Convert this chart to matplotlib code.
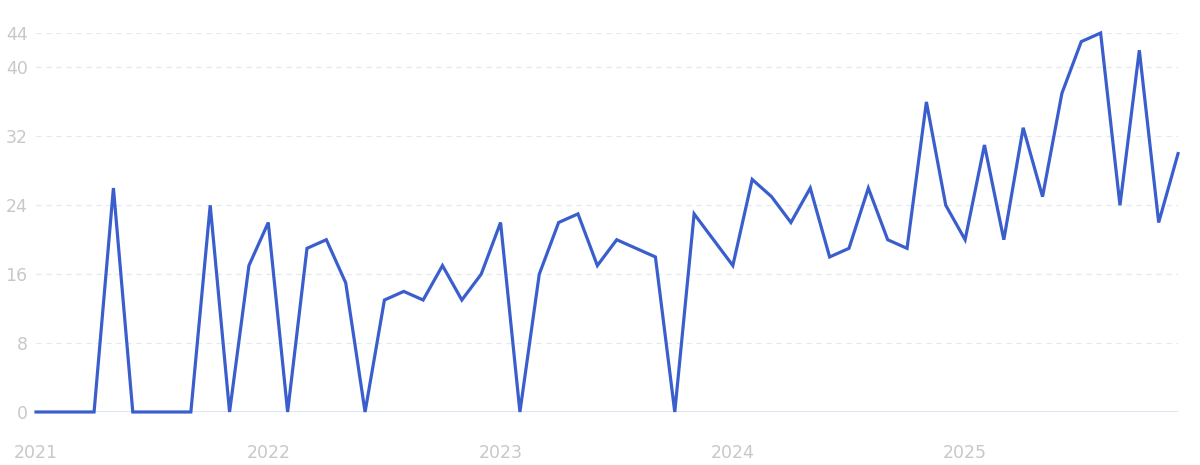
import matplotlib.pyplot as plt

# monthly values, Jan 2021 .. Dec 2025
values = [0, 0, 0, 0, 26, 0, 0, 0, 0, 24, 0, 17,
          22, 0, 19, 20, 15, 0, 13, 14, 13, 17, 13, 16,
          22, 0, 16, 22, 23, 17, 20, 19, 18, 0, 23, 20,
          17, 27, 25, 22, 26, 18, 19, 26, 20, 19, 36, 24,
          20, 31, 20, 33, 25, 37, 43, 44, 24, 42, 22, 30]
years = ['2021', '2022', '2023', '2024', '2025']
y_ticks = [0, 8, 16, 24, 32, 40, 44]

fig = plt.figure(figsize=(12, 4.65), dpi=100)
ax = fig.add_axes([0.030, 0.114, 0.9517, 0.815])

x = list(range(len(values)))
ax.plot(x, values, color='#3a5fcd', linewidth=2.3, clip_on=False, zorder=3,
        solid_joinstyle='miter')

ax.set_xlim(0, len(values) - 1)
ax.set_ylim(0, 44)
ax.set_yticks(y_ticks)
ax.set_xticks([12 * i for i in range(len(years))])
ax.set_xticklabels(years)

for t in y_ticks[1:]:
    ax.axhline(t, color='#e2e8ee', linewidth=0.9, linestyle=(0, (4, 4)), zorder=1)
ax.axhline(0, color='#d6e2f4', linewidth=1.2, zorder=2)

for s in ax.spines.values():
    s.set_visible(False)
ax.tick_params(axis='both', length=0, labelsize=12.5, labelcolor='#c8c8c8')
ax.tick_params(axis='y', pad=6)
ax.tick_params(axis='x', pad=23)

plt.savefig('out.png', dpi=100)
